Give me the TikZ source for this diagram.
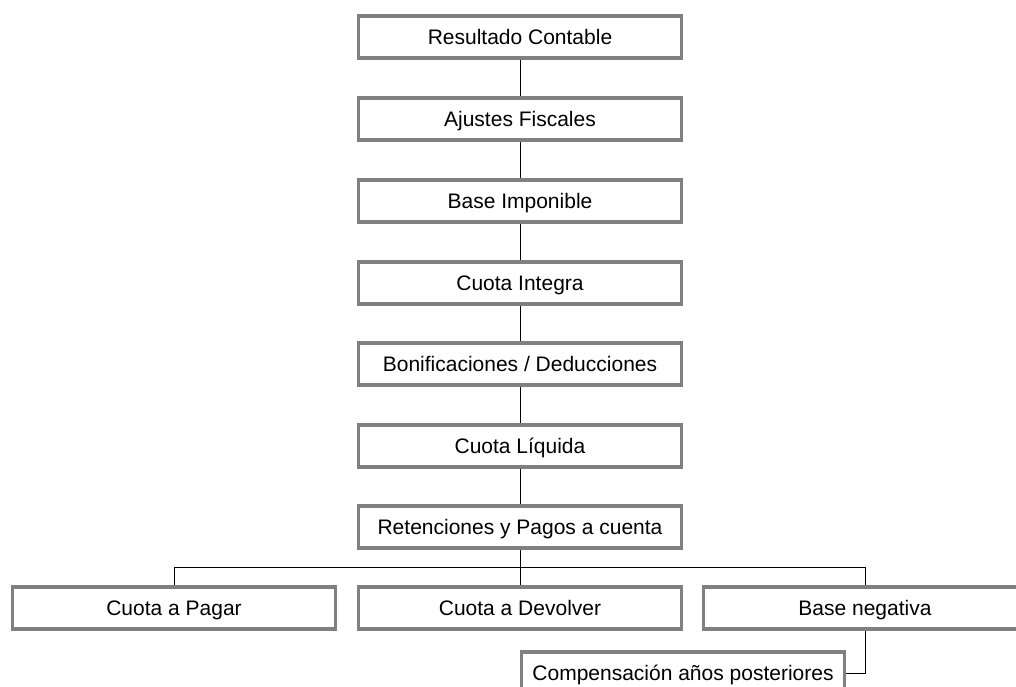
\documentclass[tikz,border=0pt]{standalone}
\usepackage{fontspec}
\setmainfont{Liberation Sans}
\definecolor{boxgray}{RGB}{128,128,128}
\tikzset{
  paso/.style={draw=boxgray, line width=3.5pt, fill=white, minimum width=323pt, minimum height=42pt, inner sep=0pt, text height=15pt, text depth=1pt, font=\fontsize{21}{25}\selectfont},
  linea/.style={black, line width=1pt}
}
\begin{document}
\begin{tikzpicture}[x=1pt, y=-1pt]
\clip (0,0) rectangle (1016,686);
%Boxes
\node[paso] (res) at (520,37) {Resultado Contable};
\node[paso] (aju) at (520,119) {Ajustes Fiscales};
\node[paso] (base) at (520,201) {Base Imponible};
\node[paso] (cint) at (520,283) {Cuota Integra};
\node[paso] (bon) at (520,364) {Bonificaciones / Deducciones};
\node[paso] (cliq) at (520,446) {Cuota Líquida};
\node[paso] (ret) at (520,527) {Retenciones y Pagos a cuenta};
\node[paso] (pag) at (174,608) {Cuota a Pagar};
\node[paso] (dev) at (520,608) {Cuota a Devolver};
\node[paso] (neg) at (865,608) {Base negativa};
\node[paso] (comp) at (683,673) {Compensación años posteriores};
%Lines
\coordinate (bus) at (520,567);
\draw[linea] (res) -- (aju);
\draw[linea] (aju) -- (base);
\draw[linea] (base) -- (cint);
\draw[linea] (cint) -- (bon);
\draw[linea] (bon) -- (cliq);
\draw[linea] (cliq) -- (ret);
\draw[linea] (ret) -- (dev);
\draw[linea] (pag.north) |- (bus) -| (neg.north);
\draw[linea] (neg.south) |- (comp.east);
\end{tikzpicture}
\end{document}
